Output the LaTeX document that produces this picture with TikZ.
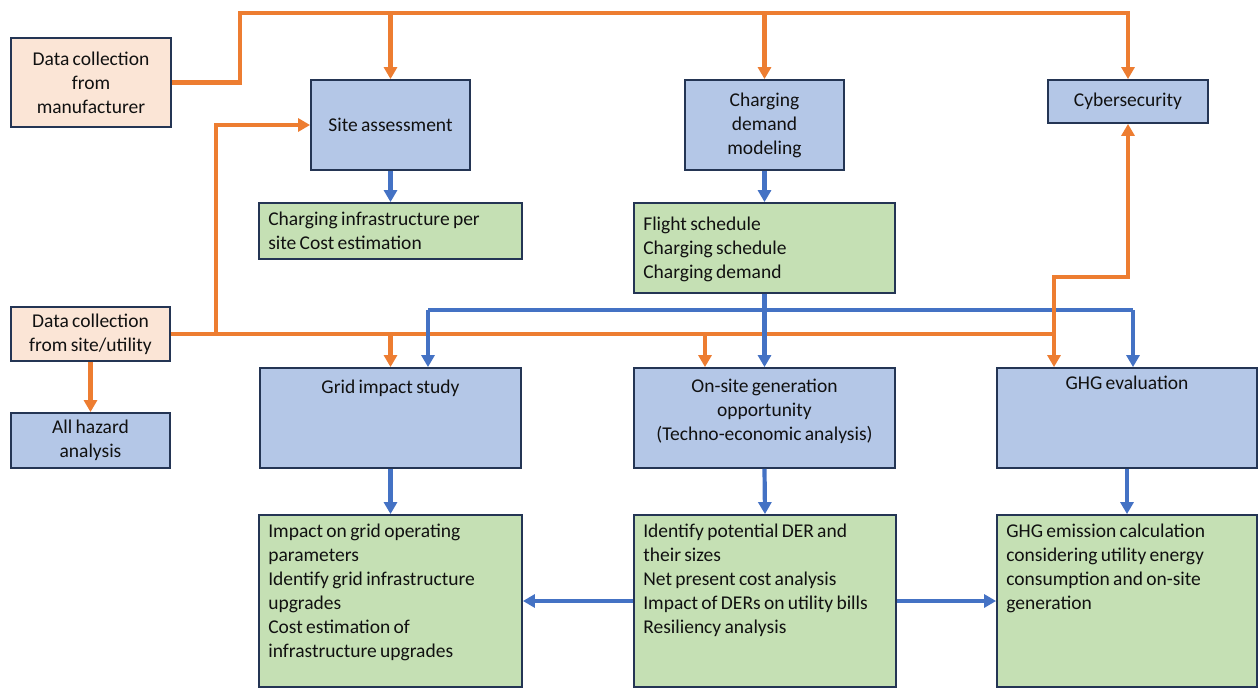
\documentclass[tikz,border=0pt]{standalone}
\usepackage{fontspec}
\setmainfont{Carlito}[WordSpace=0.75]
\usetikzlibrary{arrows.meta}
\definecolor{peach}{HTML}{FBE5D6}
\definecolor{bfill}{HTML}{B4C7E7}
\definecolor{gfill}{HTML}{C5E0B4}
\definecolor{oline}{HTML}{ED7D31}
\definecolor{bline}{HTML}{4472C4}
\definecolor{edge}{HTML}{243554}
\definecolor{txt}{HTML}{111111}
\begin{document}
\begin{tikzpicture}[x=1pt,y=-1pt,
  box/.style={draw=edge, line width=1.8pt, inner sep=0pt, text=txt, align=center, font=\fontsize{19.5}{24}\selectfont},
  pbox/.style={box, fill=peach},
  bbox/.style={box, fill=bfill},
  gbox/.style={box, fill=gfill},
  lbl/.style={inner sep=0pt, text=txt, font=\fontsize{19.5}{24}\selectfont},
  tip/.tip={Triangle[length=12pt,width=13pt]},
  oln/.style={draw=oline, line width=4.2pt},
  oarr/.style={oln, -tip},
  bln/.style={draw=bline, line width=4.2pt},
  barr/.style={bln, -tip},
]
\useasboundingbox (0,0) rectangle (1258,688);

% boxes
\node[pbox, minimum width=160, minimum height=89] (dcm) at (91,82.5) {Data collection\\from\\manufacturer};
\node[bbox, minimum width=159, minimum height=90] (site) at (390.5,125) {Site assessment};
\node[bbox, minimum width=159, minimum height=90] (cdm) at (764.5,125) {Charging\\demand\\modeling};
\node[bbox, minimum width=160, minimum height=43] (cyber) at (1128,101.5) {Cybersecurity};
\node[gbox, minimum width=263, minimum height=56] (infra) at (390.5,231) {};
\node[gbox, minimum width=261, minimum height=90] (flight) at (764.5,248) {};
\node[pbox, minimum width=159, minimum height=54] (dcsu) at (90.5,334) {Data collection\\from site/utility};
\node[bbox, minimum width=159, minimum height=55] (hazard) at (90.5,440.5) {All hazard\\analysis};
\node[bbox, minimum width=261, minimum height=100] (grid) at (390.5,418) {};
\node[bbox, minimum width=261, minimum height=100] (onsite) at (764.5,418) {};
\node[bbox, minimum width=260, minimum height=100] (ghg) at (1127,418) {};
\node[gbox, minimum width=263, minimum height=172] (gridout) at (390.5,601) {};
\node[gbox, minimum width=262, minimum height=172] (onsiteout) at (765,601) {};
\node[gbox, minimum width=260, minimum height=172] (ghgout) at (1127,601) {};

% texts inside boxes
\node[lbl, anchor=west, align=left] (infrat) at ([xshift=10pt]infra.west) {Charging infrastructure per\\site Cost estimation};
\node[lbl, anchor=west, align=left] (flightt) at ([xshift=10pt,yshift=-1pt]flight.west) {Flight schedule\\Charging schedule\\Charging demand};
\node[lbl, anchor=north] (gridt) at ([yshift=-13pt]grid.north) {Grid impact study};
\node[lbl, anchor=north, align=center] (onsitet) at ([yshift=-12pt]onsite.north) {On-site generation\\opportunity\\(Techno-economic analysis)};
\node[lbl, anchor=north] (ghgt) at ([yshift=-9pt]ghg.north) {GHG evaluation};
\node[lbl, anchor=north west, align=left] (gridoutt) at ([xshift=10pt,yshift=-10pt]gridout.north west) {Impact on grid operating\\parameters\\Identify grid infrastructure\\upgrades\\Cost estimation of\\infrastructure upgrades};
\node[lbl, anchor=north west, align=left] (onsiteoutt) at ([xshift=10pt,yshift=-10pt]onsiteout.north west) {Identify potential DER and\\their sizes\\Net present cost analysis\\Impact of DERs on utility bills\\Resiliency analysis};
\node[lbl, anchor=north west, align=left] (ghgoutt) at ([xshift=10pt,yshift=-10pt]ghgout.north west) {GHG emission calculation\\considering utility energy\\consumption and on-site\\generation};

% coordinates
\coordinate (t1) at (240,13);
\coordinate (t2) at (1128,13);
\coordinate (j0) at (216,334);
\coordinate (j1) at (1054,334);
\coordinate (c2) at (1054,277);
\coordinate (bl) at (428,310);
\coordinate (br) at (1133,310);
\coordinate (ob) at (705,334);

% blue horizontal distribution
\draw[bln] (bl) -- (br);

% orange connectors
\draw[oarr] (dcm.east) -| (t1) -- (t2) -- (cyber.north);
\draw[oarr] (site.north |- t1) -- (site.north);
\draw[oarr] (cdm.north |- t1) -- (cdm.north);
\draw[oln] (dcsu.east) -- (j1);
\draw[oarr] (j0) |- (site.west);
\draw[oarr] (grid.north |- j1) -- (grid.north);
\draw[oarr] (ob) -- (ob |- onsite.north);
\draw[oarr] (j1) -- (j1 |- ghg.north);
\draw[oarr] (j1) -- (c2) -| (cyber.south);
\draw[oarr] (dcsu.south) -- (hazard.north);

% blue connectors
\draw[barr] (site.south) -- (infra.north);
\draw[barr] (cdm.south) -- (flight.north);
\draw[barr] (flight.south) -- (onsite.north);
\draw[barr] (bl) -- (bl |- grid.north);
\draw[barr] (br) -- (br |- ghg.north);
\draw[barr] (grid.south) -- (gridout.north);
\draw[barr] (onsite.south) -- (onsiteout.north);
\draw[barr] (ghg.south) -- (ghgout.north);
\draw[barr] (onsiteout.west) -- (gridout.east);
\draw[barr] (onsiteout.east) -- (ghgout.west);
\end{tikzpicture}
\end{document}
